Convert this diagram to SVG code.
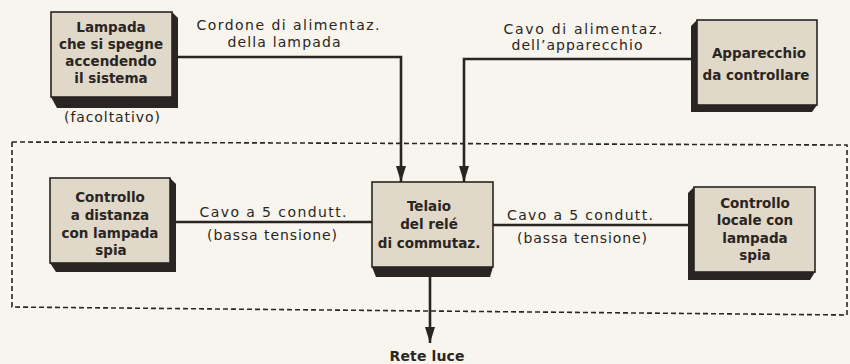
<svg xmlns="http://www.w3.org/2000/svg" width="850" height="364" viewBox="0 0 850 364">
<defs>
<style>
.bg{fill:#f7f5ee}
.face{fill:#e0d8c8;stroke:#2a2522;stroke-width:1.6}
.shade{fill:#2a2522}
.wire{fill:none;stroke:#2a2522;stroke-width:2.6}
.frame{fill:none;stroke:#2a2522;stroke-width:1.6;stroke-dasharray:5 3}
.bt{font-family:"DejaVu Sans","Liberation Sans",sans-serif;font-weight:bold;font-size:13.5px;fill:#2a2522;text-anchor:middle}
.lb{font-family:"DejaVu Sans","Liberation Sans",sans-serif;font-size:14px;fill:#2a2522;text-anchor:middle}
.lbb{font-family:"DejaVu Sans","Liberation Sans",sans-serif;font-weight:bold;font-size:14px;fill:#2a2522;text-anchor:middle}
</style>
<marker id="arr" viewBox="0 0 16 10" refX="16" refY="5" markerWidth="16" markerHeight="10" markerUnits="userSpaceOnUse" orient="auto">
<path d="M0,0 L16,5 L0,10 z" fill="#2a2522"/>
</marker>
</defs>
<rect class="bg" x="0" y="0" width="850" height="364"/>

<path class="frame" d="M12,142 L847,145 L847,315 L12,307 Z"/>

<g id="connectors">
<path class="wire" d="M178,57 H401 V182" marker-end="url(#arr)"/>
<path class="wire" d="M691,59 H464 V182" marker-end="url(#arr)"/>
<path class="wire" d="M175,222 H372"/>
<path class="wire" d="M493,225 H688"/>
<path class="wire" d="M430,277 V343" marker-end="url(#arr)"/>
<text class="lb" x="288" y="30" textLength="183" lengthAdjust="spacing">Cordone di alimentaz.</text>
<text class="lb" x="284" y="47" textLength="113" lengthAdjust="spacing">della lampada</text>
<text class="lb" x="583" y="34" textLength="159" lengthAdjust="spacing">Cavo di alimentaz.</text>
<text class="lb" x="577" y="50" textLength="131" lengthAdjust="spacing">dell’apparecchio</text>
<text class="lb" x="273" y="217" textLength="147" lengthAdjust="spacing">Cavo a 5 condutt.</text>
<text class="lb" x="272" y="240" textLength="130" lengthAdjust="spacing">(bassa tensione)</text>
<text class="lb" x="580" y="220" textLength="146" lengthAdjust="spacing">Cavo a 5 condutt.</text>
<text class="lb" x="582" y="243" textLength="130" lengthAdjust="spacing">(bassa tensione)</text>
<text class="lbb" x="427" y="361" textLength="75" lengthAdjust="spacing">Rete luce</text>
</g>

<g id="lampada">
<path class="shade" d="M172,12 L178,18 L178,108 L57,108 L51,97 Z"/>
<rect class="face" x="51" y="12" width="121" height="85"/>
<text class="bt" x="111" y="32">Lampada</text>
<text class="bt" x="111" y="49">che si spegne</text>
<text class="bt" x="111" y="66">accendendo</text>
<text class="bt" x="111" y="83">il sistema</text>
<text class="lb" x="112" y="122" textLength="96" lengthAdjust="spacing">(facoltativo)</text>
</g>

<g id="apparecchio">
<path class="shade" d="M697,20 L691,26 L691,112 L812,112 L817,105 Z"/>
<rect class="face" x="697" y="20" width="120" height="85"/>
<text class="bt" x="759" y="58">Apparecchio</text>
<text class="bt" x="756" y="80">da controllare</text>
</g>

<g id="controllo-distanza">
<path class="shade" d="M170,178 L176,184 L176,272 L56,272 L50,263 Z"/>
<rect class="face" x="50" y="178" width="120" height="85"/>
<text class="bt" x="110" y="202">Controllo</text>
<text class="bt" x="110" y="220">a distanza</text>
<text class="bt" x="110" y="238">con lampada</text>
<text class="bt" x="111" y="255">spia</text>
</g>

<g id="telaio">
<path class="shade" d="M372,267 L493,267 L490,277 L376,277 Z"/>
<rect class="face" x="372" y="182" width="121" height="85"/>
<text class="bt" x="429" y="211">Telaio</text>
<text class="bt" x="429" y="229">del relé</text>
<text class="bt" x="429" y="248">di commutaz.</text>
</g>

<g id="controllo-locale">
<path class="shade" d="M694,187 L688,193 L688,280 L810,280 L815,272 Z"/>
<rect class="face" x="694" y="187" width="121" height="85"/>
<text class="bt" x="755" y="208">Controllo</text>
<text class="bt" x="755" y="225">locale con</text>
<text class="bt" x="755" y="243">lampada</text>
<text class="bt" x="755" y="260">spia</text>
</g>
</svg>
